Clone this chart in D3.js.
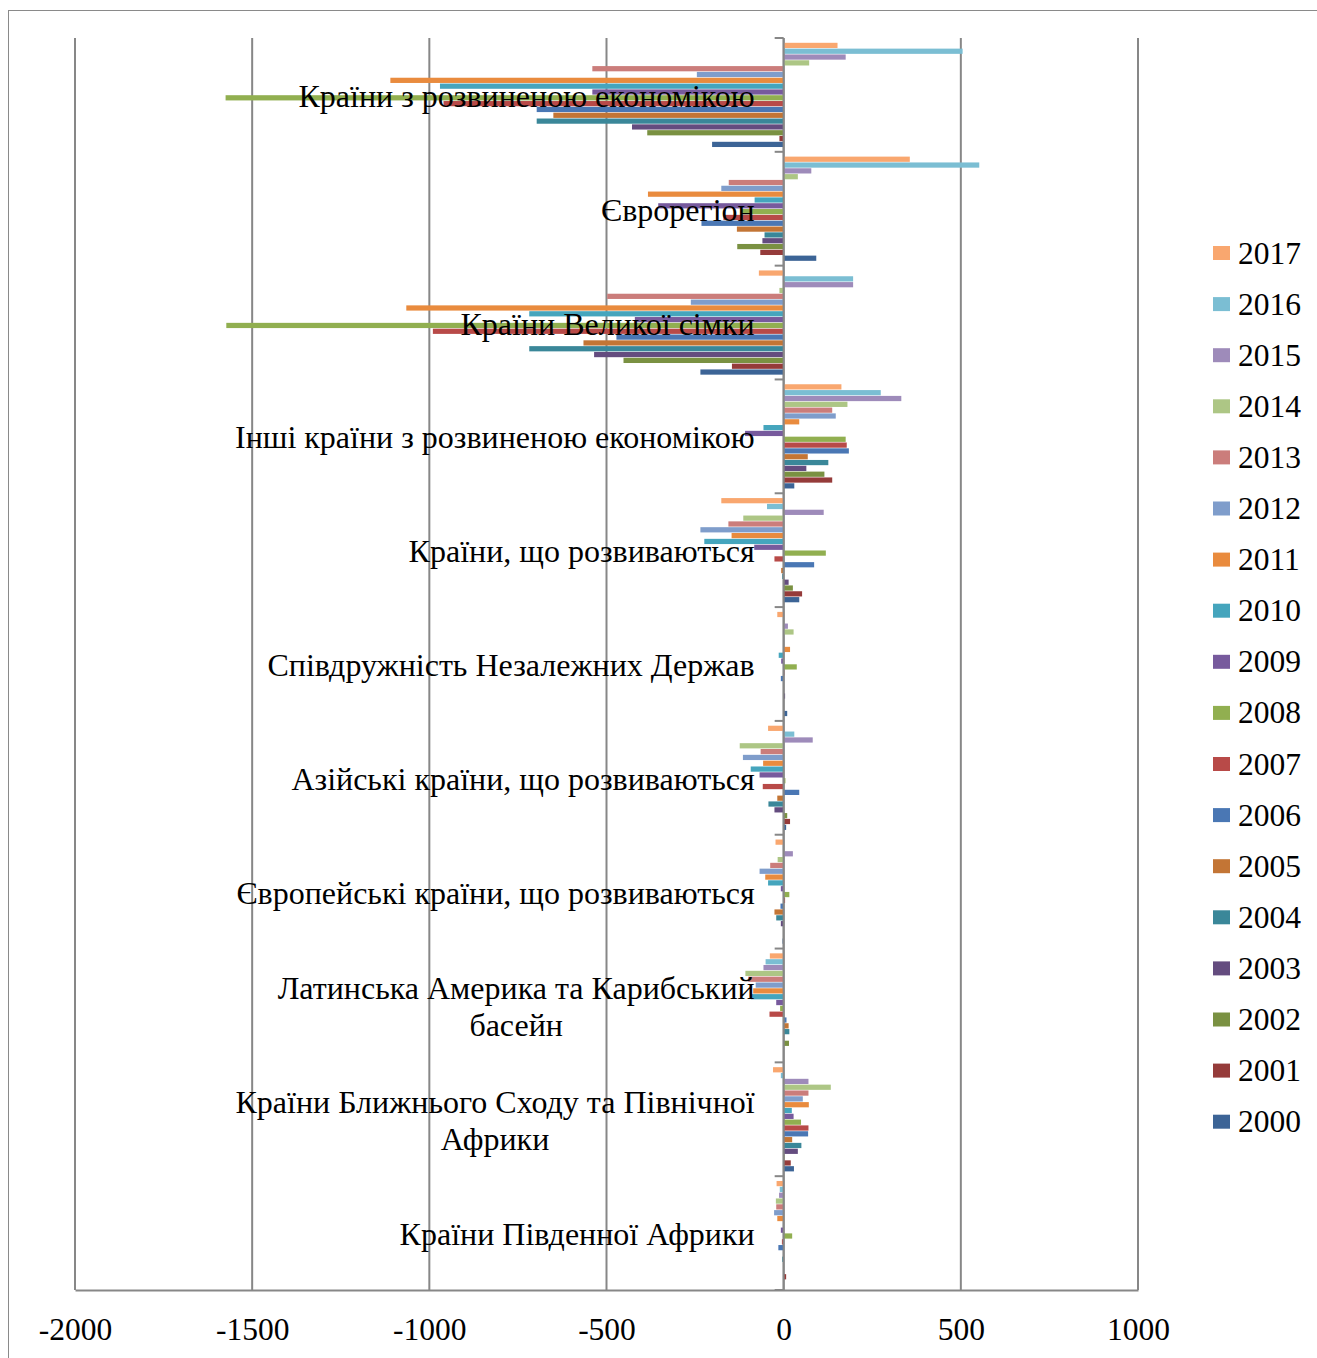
<!DOCTYPE html>
<html><head><meta charset="utf-8">
<script src="https://cdn.jsdelivr.net/npm/d3@7"></script>
<style>html,body{margin:0;padding:0;background:#fff}svg{display:block}</style>
</head><body><svg id="chart" width="1317" height="1358"></svg>
<script>
const categories = [
  "Країни з розвиненою економікою",
  "Єврорегіон",
  "Країни Великої сімки",
  "Інші країни з розвиненою економікою",
  "Країни, що розвиваються",
  "Співдружність Незалежних Держав",
  "Азійські країни, що розвиваються",
  "Європейські країни, що розвиваються",
  "Латинська Америка та Карибський басейн",
  "Країни Ближнього Сходу та Північної Африки",
  "Країни Південної Африки"
];
const years = ["2017","2016","2015","2014","2013","2012","2011","2010","2009","2008","2007","2006","2005","2004","2003","2002","2001","2000"];
const colors = ["#F9A76F","#7BBED3","#9E8BBA","#ADC685","#CB7D7B","#7F9DCB","#E98B3E","#45A5BD","#775A9D","#91AF50","#B84A48","#4A77B4","#C37535","#3A8799","#644C7F","#7A9142","#953B3A","#3C6496"];
const xTicks = [-2000,-1500,-1000,-500,0,500,1000];

const v2017 = [152, 356, -70, 163, -176, -18, -44, -23, -39, -30, -20];
const v2016 = [505, 552, 196, 274, -47, 0, 30, -2, -51, -8, -11];
const v2015 = [175, 78, 196, 332, 113, 12, 82, 26, -57, 70, -13];
const v2014 = [72, 40, -12, 180, -114, 28, -124, -17, -108, 133, -22];
const v2013 = [-540, -155, -498, 137, -156, 0, -65, -38, -100, 70, -21];
const v2012 = [-245, -176, -262, 147, -235, 0, -115, -68, -79, 54, -27];
const v2011 = [-1110, -383, -1065, 44, -147, 18, -58, -52, -86, 71, -18];
const v2010 = [-970, -82, -718, -57, -224, -14, -93, -44, -93, 23, 0];
const v2009 = [-540, -354, -420, -109, -83, -7, -68, -8, -21, 28, -8];
const v2008 = [-1575, -120, -1573, 175, 119, 37, 5, 16, -10, 49, 24];
const v2007 = [-960, -170, -990, 178, -26, 2, -59, 4, -40, 70, -5];
const v2006 = [-697, -232, -472, 184, 86, -8, 44, -9, 8, 69, -15];
const v2005 = [-650, -132, -565, 68, -7, 0, -18, -26, 14, 24, 0];
const v2004 = [-697, -54, -718, 126, -4, 0, -43, -21, 16, 50, -4];
const v2003 = [-428, -60, -535, 64, 14, 4, -26, -8, 0, 40, 0];
const v2002 = [-385, -131, -452, 115, 26, 0, 10, 0, 15, 2, 0];
const v2001 = [-12, -66, -146, 137, 52, 0, 18, 0, 0, 20, 7];
const v2000 = [-202, 92, -235, 30, 44, 10, 7, -3, 0, 29, 0];

const seriesValues = [v2017,v2016,v2015,v2014,v2013,v2012,v2011,v2010,v2009,v2008,v2007,v2006,v2005,v2004,v2003,v2002,v2001,v2000];

const FONT = "'Times New Roman','Liberation Serif',serif";
const svg = d3.select("#chart");
const plotTop = 38, plotBottom = 1290, plotLeft = 75, plotRight = 1138;

const x = d3.scaleLinear().domain([-2000,1000]).range([plotLeft,plotRight]);
const y0 = d3.scaleBand().domain(categories).range([plotTop,plotBottom]).padding(0);
const y1 = d3.scaleBand().domain(years).range([4.5, y0.bandwidth()-4.5]).padding(0);
const color = d3.scaleOrdinal().domain(years).range(colors);

// outer frame
svg.append("rect").attr("x",8.5).attr("y",10.5).attr("width",1400).attr("height",1400)
  .attr("fill","none").attr("stroke","#8a8a8a").attr("stroke-width",1);

// gridlines
svg.append("g").selectAll("line").data(xTicks).join("line")
  .attr("x1",d=>x(d)).attr("x2",d=>x(d)).attr("y1",plotTop).attr("y2",plotBottom)
  .attr("stroke","#878787").attr("stroke-width",2);

// bars
const rows = [];
years.forEach((yr,i)=>categories.forEach((c,j)=>rows.push({yr,c,v:seriesValues[i][j]})));
svg.append("g").selectAll("rect").data(rows.filter(d=>d.v!==0)).join("rect")
  .attr("x",d=>Math.min(x(0),x(d.v)))
  .attr("width",d=>Math.abs(x(d.v)-x(0)))
  .attr("y",d=>y0(d.c)+y1(d.yr)+0.3)
  .attr("height",y1.bandwidth()-0.6)
  .attr("fill",d=>color(d.yr));

// bottom axis
const xAxis = d3.axisBottom(x).tickValues(xTicks).tickSize(0).tickPadding(28).tickFormat(d3.format("d"));
const gx = svg.append("g").attr("transform",`translate(0,${plotBottom})`).call(xAxis);
gx.select(".domain").attr("stroke","#878787").attr("stroke-width",2);
gx.selectAll("text").attr("font-family",FONT).attr("font-size",31.5).attr("fill","#000")
  .text(d=>d<0 ? "-"+Math.abs(d) : String(d));

// category axis at zero
const bounds = categories.map(c=>y0(c)).concat([plotBottom]);
svg.append("line").attr("x1",x(0)).attr("x2",x(0)).attr("y1",plotTop).attr("y2",plotBottom)
  .attr("stroke","#878787").attr("stroke-width",2);
svg.append("g").selectAll("line").data(bounds).join("line")
  .attr("x1",x(0)-9).attr("x2",x(0)).attr("y1",d=>d).attr("y2",d=>d)
  .attr("stroke","#878787").attr("stroke-width",2);

// category labels
const LFS = 32;
const labelRight = x(0) - 29;
const maxW = 545;
const lg = svg.append("g");
categories.forEach(c=>{
  const words = c.split(" ");
  const lines = [];
  let cur = "";
  const tmp = lg.append("text").attr("font-family",FONT).attr("font-size",LFS);
  words.forEach(w=>{
    const test = cur ? cur+" "+w : w;
    tmp.text(test);
    if (tmp.node().getComputedTextLength() > maxW && cur) { lines.push(cur); cur = w; }
    else cur = test;
  });
  lines.push(cur);
  let wmax = 0;
  lines.forEach(l=>{ tmp.text(l); wmax = Math.max(wmax, tmp.node().getComputedTextLength()); });
  tmp.remove();
  const cx = labelRight - wmax/2;
  const cy = y0(c) + y0.bandwidth()/2 + 1;
  const lh = 37;
  lines.forEach((l,k)=>{
    lg.append("text").attr("x",cx).attr("y",cy + (k - (lines.length-1)/2)*lh)
      .attr("text-anchor","middle").attr("dominant-baseline","central")
      .attr("font-family",FONT).attr("font-size",LFS).attr("fill","#000").text(l);
  });
});

// legend
const leg = svg.append("g").selectAll("g").data(years).join("g")
  .attr("transform",(d,i)=>`translate(1213,${253 + i*51.1})`);
leg.append("rect").attr("x",0).attr("y",-7).attr("width",17).attr("height",14).attr("fill",d=>color(d));
leg.append("text").attr("x",25).attr("y",0).attr("dominant-baseline","central")
  .attr("font-family",FONT).attr("font-size",31.5).attr("fill","#000").text(d=>d);
</script></body></html>
